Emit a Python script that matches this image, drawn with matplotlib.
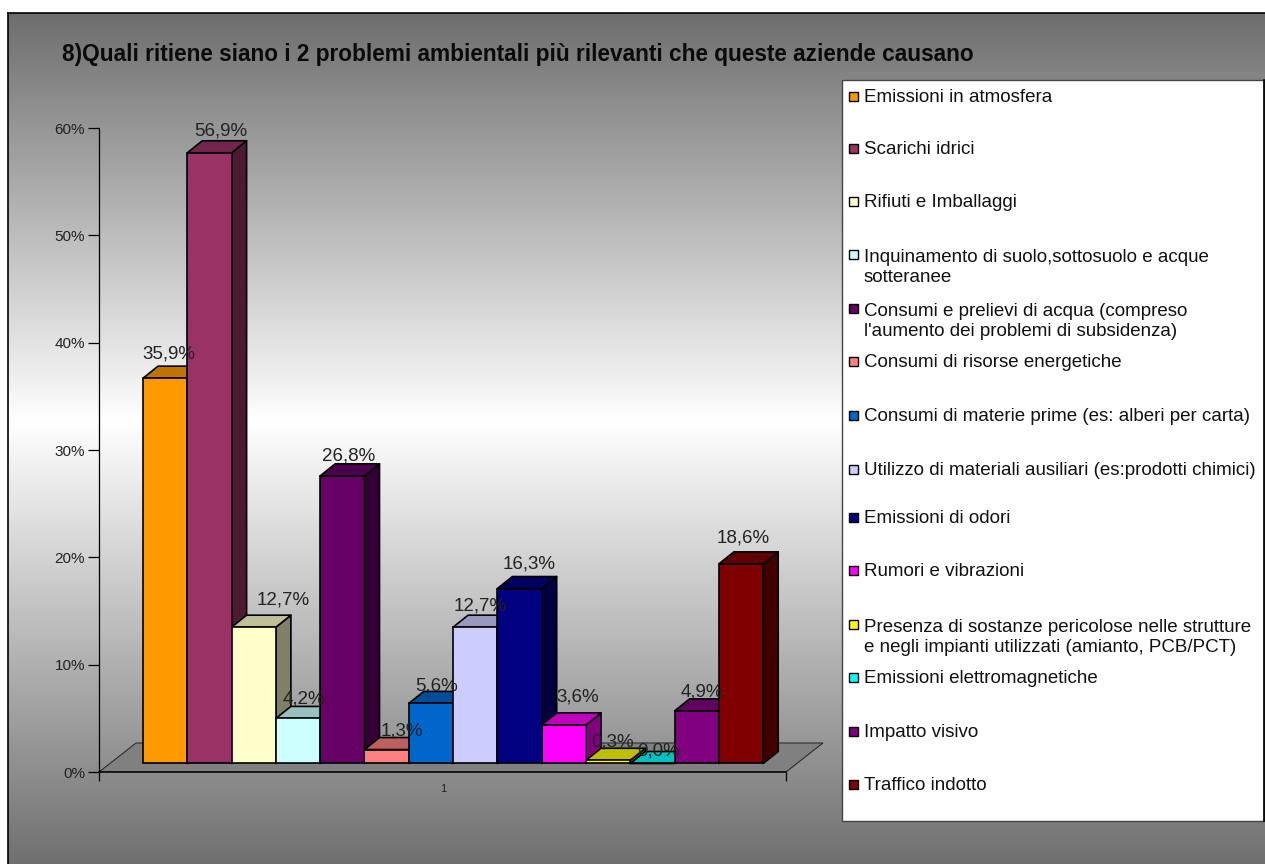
import matplotlib
matplotlib.use("Agg")
import matplotlib.pyplot as plt
import numpy as np
from matplotlib.colors import LinearSegmentedColormap, to_rgb
from matplotlib.lines import Line2D
from matplotlib.patches import Polygon, Rectangle
from matplotlib.ticker import PercentFormatter

plt.rcParams['font.family'] = ['Liberation Sans', 'DejaVu Sans']

categories = [
    "Emissioni in atmosfera",
    "Scarichi idrici",
    "Rifiuti e Imballaggi",
    "Inquinamento di suolo,sottosuolo e acque\nsotteranee",
    "Consumi e prelievi di acqua (compreso\nl'aumento dei problemi di subsidenza)",
    "Consumi di risorse energetiche",
    "Consumi di materie prime (es: alberi per carta)",
    "Utilizzo di materiali ausiliari (es:prodotti chimici)",
    "Emissioni di odori",
    "Rumori e vibrazioni",
    "Presenza di sostanze pericolose nelle strutture\ne negli impianti utilizzati (amianto, PCB/PCT)",
    "Emissioni elettromagnetiche",
    "Impatto visivo",
    "Traffico indotto",
]
values = [35.9, 56.9, 12.7, 4.2, 26.8, 1.3, 5.6, 12.7, 16.3, 3.6, 0.3, 0.0, 4.9, 18.6]
colors = ["#FF9900", "#993366", "#FFFFCC", "#CCFFFF", "#660066", "#FF8080", "#0066CC",
          "#CCCCFF", "#000080", "#FF00FF", "#FFFF00", "#00FFFF", "#800080", "#800000"]
title = "8)Quali ritiene siano i 2 problemi ambientali più rilevanti che queste aziende causano"
y_ticks = [0, 10, 20, 30, 40, 50, 60]

# Layout (pixels) only
W, H = 1265, 864
label_dx = [4, 11.5, 29, 6, 6.6, 15, 6, 5, 9.4, 14, 4, 6.5, 5, 2]
label_dy = [24, 21.4, 27, 19, 20, 18.5, 17, 21, 24.4, 28, 18, 12.5, 19, 25.7]
legend_rows = [96, 148, 201, 254, 308, 361, 415, 469, 517, 570, 624, 677, 731, 784]

fig = plt.figure(figsize=(W / 100, H / 100), dpi=100, facecolor="white")


def fx(px):
    return px / W


def fy(py):
    return 1 - py / H


# Background gradient
bg = fig.add_axes([fx(8), 0, 1 - fx(8), fy(13)], zorder=0)
cmap = LinearSegmentedColormap.from_list("g", [(0, "#6e6e6e"), (0.48, "#ffffff"), (1, "#707070")])
bg.imshow(np.linspace(0, 1, 512)[:, None], aspect="auto", cmap=cmap)
bg.set_xticks([])
bg.set_yticks([])
for name, sp in bg.spines.items():
    sp.set_visible(name in ("top", "left"))
    sp.set_linewidth(1.2)

# Plot axes: x unit = one bar width
BAR = 44.3
X0 = 143
PX = 10.73
ax = fig.add_axes([fx(99), fy(772), fx(824 - 99), fy(128) - fy(772)], zorder=1)
ax.set_xlim((99 - X0) / BAR, (824 - X0) / BAR)
ax.set_ylim(0, 60)
ax.patch.set_alpha(0)
for name in ("top", "right"):
    ax.spines[name].set_visible(False)
xl, xr = (99 - X0) / BAR, (786 - X0) / BAR
ax.spines["bottom"].set_bounds(xl, xr)
ax.spines["bottom"].set_linewidth(1.1)
ax.spines["bottom"].set_zorder(3)
ax.spines["left"].set_linewidth(0.9)
ax.yaxis.set_major_formatter(PercentFormatter(decimals=0))
ax.set_yticks(y_ticks)
ax.tick_params(axis="y", length=8, width=0.9, labelsize=11, pad=2, labelcolor="#222222")
ax.set_xticks([xl, xr])
ax.set_xticklabels([])
ax.tick_params(axis="x", length=6.5, width=0.9)
ax.text((443 - X0) / BAR, -17 / PX, "1", fontsize=8, ha="center", va="center", color="#222222")

# Floor
fdx, fdy = 37 / BAR, 29 / PX
ax.add_patch(Polygon([(xl, 0), (xr, 0), (xr + fdx, fdy), (xl + fdx, fdy)], closed=True,
                     facecolor="#808080", edgecolor="#222222", linewidth=0.7, zorder=1))

# Bars
base = 8.5 / PX
ddx, ddy = 15 / BAR, 12 / PX
LW = 1.2
for i, (v, c) in enumerate(zip(values, colors)):
    rgb = np.array(to_rgb(c))
    top = base + v
    z = 2 + i * 0.01
    ax.add_patch(Polygon([(i + 1, base), (i + 1 + ddx, base + ddy), (i + 1 + ddx, top + ddy), (i + 1, top)],
                         closed=True, facecolor=rgb * 0.5, edgecolor="black", linewidth=LW, zorder=z,
                         joinstyle="round"))
    ax.add_patch(Polygon([(i, top), (i + ddx, top + ddy), (i + 1 + ddx, top + ddy), (i + 1, top)],
                         closed=True, facecolor=rgb * 0.75, edgecolor="black", linewidth=LW, zorder=z,
                         joinstyle="round"))
    ax.bar(i + 0.5, v, width=1, bottom=base, color=c, edgecolor="black", linewidth=LW, zorder=z + 0.001)

# Data labels
for i, v in enumerate(values):
    ax.annotate(f"{v:.1f}%".replace(".", ","), xy=(i + 0.5, base + v),
                xytext=(label_dx[i] * 0.72, label_dy[i] * 0.72), textcoords="offset points",
                ha="center", va="center", fontsize=13.5, color="#222222", zorder=10,
                annotation_clip=False)

# Title
fig.text(fx(62), fy(55), title, fontsize=16.25, fontweight="bold", color="#0a0a0a",
         ha="left", va="center", zorder=5)

# Legend
fig.add_artist(Rectangle((fx(842), fy(821)), fx(W - 842) - fx(1), fy(80) - fy(821), transform=fig.transFigure,
                         facecolor="white", edgecolor="#444444", linewidth=1.0, zorder=6))
fig.add_artist(Line2D([fx(W - 1)] * 2, [fy(821), fy(80)], color="black", linewidth=1.2, zorder=6.5))
for lab, c, row in zip(categories, colors, legend_rows):
    fig.add_artist(Rectangle((fx(849), fy(row + 5)), fx(9), fy(row - 4) - fy(row + 5), transform=fig.transFigure,
                             facecolor=c, edgecolor="black", linewidth=1.0, zorder=7))
    extra = lab.count("\n") * 22
    fig.text(fx(864), fy(row + 6 + extra), lab, fontsize=13.5, ha="left", va="baseline",
             color="#111111", zorder=8, linespacing=1.2)

fig.savefig("out.png", dpi=100)
